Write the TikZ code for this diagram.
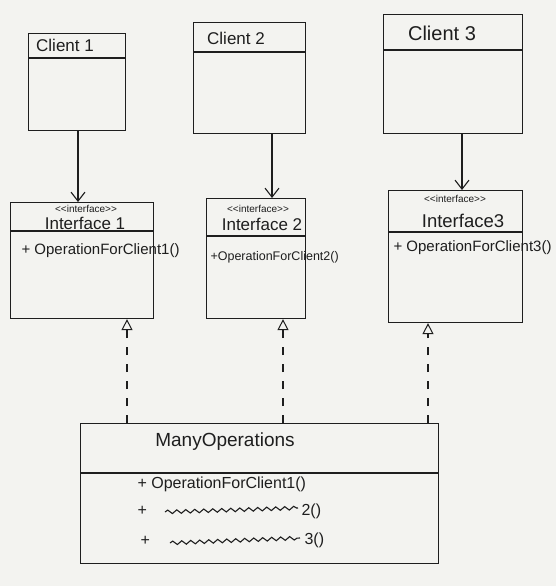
\documentclass[tikz,border=0pt]{standalone}
\usepackage{fontspec}
\setmainfont{Liberation Sans}
\usetikzlibrary{arrows.meta,decorations.pathmorphing}
\definecolor{paper}{RGB}{243,243,240}
\definecolor{ink}{RGB}{30,30,30}
\begin{document}
\begin{tikzpicture}[x=1pt,y=-1pt,line width=1.1pt,draw=ink,text=ink,
  classbox/.style={draw=ink,rectangle,anchor=north west,inner sep=0pt},
  cname/.style={font=\fontsize{17}{19}\selectfont,inner sep=1pt},
  iname/.style={font=\fontsize{17}{19}\selectfont,inner sep=1pt},
  stereo/.style={font=\fontsize{10}{11}\selectfont,inner sep=1pt},
  opname/.style={font=\fontsize{15}{17}\selectfont,anchor=west,inner sep=1pt},
  uses/.style={-{Straight Barb[length=9pt,width=14pt,line width=1.1pt]}},
  realizes/.style={dashed,dash pattern=on 8pt off 9pt,-{Triangle[open,length=11pt,width=11pt,line width=1pt]}},
  squiggle/.style={decorate,decoration={snake,amplitude=1.8pt,segment length=9pt}}]
\fill[paper] (0,0) rectangle (556,586);
\useasboundingbox (0,0) rectangle (556,586);

% Clients
\node[classbox,minimum width=97pt,minimum height=97pt] (c1) at (28,33) {};
\node[cname] (c1t) at (65,45) {Client 1};
\draw (28,58) -- (125,58);
\node[classbox,minimum width=112pt,minimum height=111pt] (c2) at (193,22) {};
\node[cname] (c2t) at (236,38) {Client 2};
\draw (193,52) -- (305,52);
\node[classbox,minimum width=139pt,minimum height=119pt] (c3) at (383,14) {};
\node[cname,font=\fontsize{20}{22}\selectfont] (c3t) at (442,33) {Client 3};
\draw (383,50) -- (522,50);

% Interfaces
\node[classbox,minimum width=143pt,minimum height=116pt] (i1) at (10,202) {};
\node[stereo] (i1s) at (86,209) {<{}<interface>{}>};
\node[iname] (i1n) at (85,223) {Interface 1};
\draw (10,231) -- (153,231);
\node[opname] (i1o) at (20,251) {+ OperationForClient1()};

\node[classbox,minimum width=99pt,minimum height=120pt] (i2) at (206,198) {};
\node[stereo] (i2s) at (258,209) {<{}<interface>{}>};
\node[iname] (i2n) at (262,224) {Interface 2};
\draw (206,236) -- (305,236);
\node[opname,font=\fontsize{12.5}{14}\selectfont] (i2o) at (209,257) {+OperationForClient2()};

\node[classbox,minimum width=134pt,minimum height=132pt] (i3) at (388,190) {};
\node[stereo] (i3s) at (455,199) {<{}<interface>{}>};
\node[iname,font=\fontsize{18.5}{20}\selectfont] (i3n) at (463,221) {Interface3};
\draw (388,232) -- (522,232);
\node[opname] (i3o) at (392,248) {+ OperationForClient3()};

% ManyOperations
\node[classbox,minimum width=358pt,minimum height=140pt] (m) at (80,423) {};
\node[cname,font=\fontsize{19}{21}\selectfont] (mt) at (225,442) {ManyOperations};
\draw (80,473) -- (438,473);
\node[opname,font=\fontsize{16}{18}\selectfont] (m1) at (136,484) {+ OperationForClient1()};
\node[opname,font=\fontsize{16}{18}\selectfont] (m2p) at (136,511) {+};
\draw[squiggle] (165,512) -- (298,508);
\node[opname,font=\fontsize{16}{18}\selectfont] (m2) at (300,511) {2()};
\node[opname,font=\fontsize{16}{18}\selectfont] (m3p) at (139,541) {+};
\draw[squiggle] (170,543) -- (300,538);
\node[opname,font=\fontsize{16}{18}\selectfont] (m3) at (303,540) {3()};

% connectors
\coordinate (x1) at (78,0);
\coordinate (x2) at (272,0);
\coordinate (x3) at (462,0);
\draw[uses] (c1.south -| x1) -- (i1.north -| x1);
\draw[uses] (c2.south -| x2) -- (i2.north -| x2);
\draw[uses] (c3.south -| x3) -- (i3.north -| x3);

\coordinate (y1) at (127,0);
\coordinate (y2) at (283,0);
\coordinate (y3) at (428,0);
\draw[realizes] (m.north -| y1) -- (i1.south -| y1);
\draw[realizes] (m.north -| y2) -- (i2.south -| y2);
\draw[realizes] (m.north -| y3) -- (i3.south -| y3);
\end{tikzpicture}
\end{document}
